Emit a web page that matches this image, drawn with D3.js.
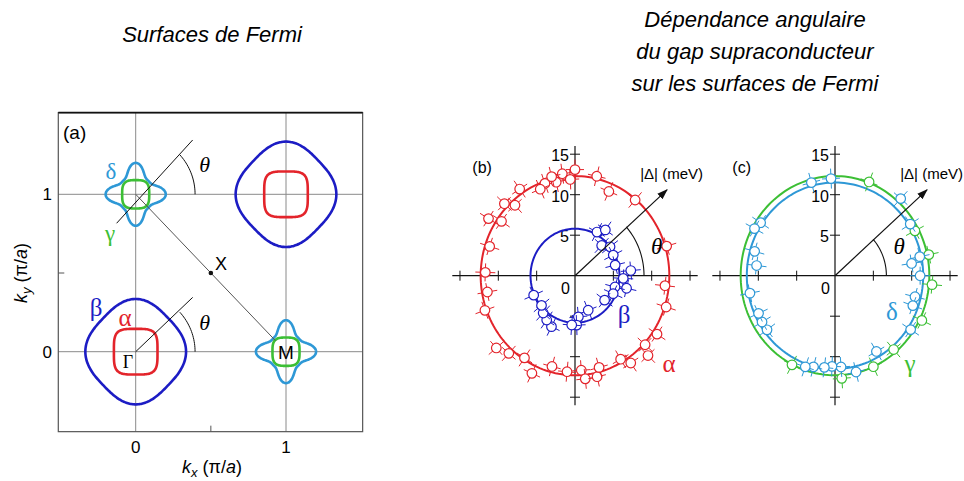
<!DOCTYPE html>
<html><head><meta charset="utf-8">
<script src="https://cdn.jsdelivr.net/npm/d3@7"></script>
<style>body{margin:0;background:#fff}svg{display:block}</style>
</head><body>
<svg id="c" width="964" height="481"></svg>
<script>
// ---------- DATA ----------
const titleLeft = ["Surfaces de Fermi"];
const titleRight = ["Dépendance angulaire", "du gap supraconducteur", "sur les surfaces de Fermi"];
const kTicks = [0, 1];
const kMinor = [0.5];
const gapTicks = [-15, -10, -5, 5, 10, 15];
const gapTickLabels = [15, 10, 5];
// Fermi pockets (centres in pi/a units)
const alphaCenters = [[0, 0], [1, 1]];
const betaCenters = [[0, 0], [1, 1]];
const gammaCenters = [[0, 1], [1, 0]];
const deltaCenters = [[0, 1], [1, 0]];
const pocketSize = [0.145, 0.335, 0.09, 0.2]; // alpha, beta, gamma, delta (half extent along kx)
// Fitted gap magnitudes (meV)
const fitGap = [12.3, 5.8, 12.3, 11.5]; // alpha, beta, gamma, delta
// Measured gaps [theta deg, |Delta| meV]
const alphaPts = [[90,13.1],[97.5,12.7],[102,11.8],[109,12.05],[113,11.6],[124,12.9],[132,11.7],[136,12.8],[145,11.7],[148,13.3],[162,11.7],[178,11.7],
  [190,11.6],[200,12.5],[221,13.6],[228,12.9],[237,12.1],[245,13.3],[255,11.6],[265,11.9],[274,11.7],[276,12.8],[283,12.8],[285.5,11.75],[300,11.9],[304,13],
  [314,13.7],[317,12.5],[326,12.9],[342,12.5],[354,11.8],[17,12.5],[50,12.2],[67,11.3],[77,12.6],[93,11.9],[104,12.6]];
const betaPts = [[62,6.1],[55,6.9],[47,5.1],[38,5.8],[27,5.6],[14,5.4],[5,7.3],[357,6.3],[347,6.9],[345,5.4],[336,5.45],[322,4.9],[292,4.6],[275,5.1],
  [272,6.1],[266,6.1],[244,7.0],[236,6.6],[228,6.2],[220,5.7],[204,5.9]];
const gammaPts = [[69,12.4],[28,11.8],[12,12.5],[355,12.7],[334,12.6],[310,11.9],[294,12.3],[274,12.7],[243,12.35]];
const deltaPts = [[92.5,12.0],[105,11.9],[48,12.8],[33,11.7],[12,11.3],[8.6,10.1],[146,11.7],[151,12.0],[164,10.9],[173,10.3],
  [0,11.1],[346,10.75],[340,10.8],[326,11.9],[300,10.8],[283,12.2],[274,11.3],[268,11.2],[263,11.4],[256,11.6],[251,11.9],[217,11.1],[211,11.1],[205,11.0],[191,11.3]];
const arrowEnd = [12, 10.6];

// ---------- STYLE ----------
const RED = "#e3242b", BLUE = "#1c1cc4", LBLUE = "#2e98d6", GREEN = "#3cbf35";
const sans = "'Liberation Sans', Arial, sans-serif";
const serif = "'Liberation Serif', 'DejaVu Serif', serif";
const svg = d3.select("#c");

// Titles
svg.append("text").attr("x", 212).attr("y", 42).attr("text-anchor", "middle")
  .attr("font-family", sans).attr("font-style", "italic").attr("font-size", 22).text(titleLeft[0]);
titleRight.forEach((t, i) => svg.append("text").attr("x", 755).attr("y", 27 + i * 32).attr("text-anchor", "middle")
  .attr("font-family", sans).attr("font-style", "italic").attr("font-size", 22).text(t));

// ---------- PANEL (a) ----------
const xA = d3.scaleLinear().domain([0, 1]).range([135.7, 286]);
const yA = d3.scaleLinear().domain([0, 1]).range([351.7, 194.3]);
const fx0 = xA(-0.515), fx1 = xA(1.51), fy0 = yA(1.519), fy1 = yA(-0.508);
const gA = svg.append("g");
// grid
kTicks.forEach(k => {
  gA.append("line").attr("x1", xA(k)).attr("x2", xA(k)).attr("y1", fy0).attr("y2", fy1).attr("stroke", "#8a8a8a").attr("stroke-width", 1);
  gA.append("line").attr("y1", yA(k)).attr("y2", yA(k)).attr("x1", fx0).attr("x2", fx1).attr("stroke", "#8a8a8a").attr("stroke-width", 1);
});
kMinor.forEach(k => {
  gA.append("line").attr("x1", xA(k)).attr("x2", xA(k)).attr("y1", fy1).attr("y2", fy1 - 6).attr("stroke", "#555");
  gA.append("line").attr("y1", yA(k)).attr("y2", yA(k)).attr("x1", fx0).attr("x2", fx0 + 6).attr("stroke", "#555");
});
gA.append("rect").attr("x", fx0).attr("y", fy0).attr("width", fx1 - fx0).attr("height", fy1 - fy0)
  .attr("fill", "none").attr("stroke", "#555").attr("stroke-width", 1.2);
gA.append("line").attr("x1", fx0).attr("x2", fx1).attr("y1", fy0).attr("y2", fy0).attr("stroke", "#111").attr("stroke-width", 1.8);
// tick labels
kTicks.forEach(k => {
  gA.append("text").attr("x", xA(k)).attr("y", fy1 + 21).attr("text-anchor", "middle").attr("font-family", sans).attr("font-size", 17).text(k);
  gA.append("text").attr("x", 52).attr("y", yA(k) + 6).attr("text-anchor", "end").attr("font-family", sans).attr("font-size", 17).text(k);
});
// axis labels
const xl = gA.append("text").attr("x", 212).attr("y", 473).attr("text-anchor", "middle").attr("font-family", sans).attr("font-size", 18);
xl.append("tspan").attr("font-style", "italic").text("k");
xl.append("tspan").attr("font-style", "italic").attr("font-size", 13).attr("dy", 4).text("x");
xl.append("tspan").attr("dy", -4).text(" (π/");
xl.append("tspan").attr("font-style", "italic").text("a");
xl.append("tspan").text(")");
const yl = gA.append("text").attr("transform", "translate(27,273) rotate(-90)").attr("text-anchor", "middle").attr("font-family", sans).attr("font-size", 18);
yl.append("tspan").attr("font-style", "italic").text("k");
yl.append("tspan").attr("font-style", "italic").attr("font-size", 13).attr("dy", 4).text("y");
yl.append("tspan").attr("dy", -4).text(" (π/");
yl.append("tspan").attr("font-style", "italic").text("a");
yl.append("tspan").text(")");
gA.append("text").attr("x", 63).attr("y", 139).attr("font-family", sans).attr("font-size", 19).text("(a)");

// pocket shapes
const tS = d3.range(0, 361, 2).map(d => d * Math.PI / 180);
function superellipse(c, a, n, rot) {
  return tS.map(t => {
    const ct = Math.cos(t), st = Math.sin(t);
    const r = a / Math.pow(Math.pow(Math.abs(ct), n) + Math.pow(Math.abs(st), n), 1 / n);
    let u = r * ct, v = r * st;
    if (rot) { const u2 = (u - v) / Math.SQRT2, v2 = (u + v) / Math.SQRT2; u = u2; v = v2; }
    return [c[0] + u, c[1] + v];
  });
}
function star(c, a) {
  return tS.map(t => {
    const r = a * (0.6 + 0.4 * Math.pow((1 + Math.cos(4 * t)) / 2, 1.7));
    return [c[0] + r * Math.cos(t), c[1] + r * Math.sin(t)];
  });
}
const lineA = d3.line().x(d => xA(d[0])).y(d => yA(d[1])).curve(d3.curveCatmullRomClosed);
const betaR = pocketSize[1] / (Math.SQRT2 * Math.pow(2, -1 / 2.8));
betaCenters.forEach(c => gA.append("path").attr("d", lineA(superellipse(c, betaR, 2.8, true))).attr("fill", "none").attr("stroke", BLUE).attr("stroke-width", 2.6));
alphaCenters.forEach(c => gA.append("path").attr("d", lineA(superellipse(c, pocketSize[0], 4, false))).attr("fill", "none").attr("stroke", RED).attr("stroke-width", 2.6));
deltaCenters.forEach(c => gA.append("path").attr("d", lineA(star(c, pocketSize[3]))).attr("fill", "none").attr("stroke", LBLUE).attr("stroke-width", 2.6));
gammaCenters.forEach(c => gA.append("path").attr("d", lineA(superellipse(c, pocketSize[2], 3.3, false))).attr("fill", "none").attr("stroke", GREEN).attr("stroke-width", 2.6));

// lines, theta arcs
gA.append("line").attr("x1", xA(0)).attr("y1", yA(1)).attr("x2", xA(0.93)).attr("y2", yA(0.07)).attr("stroke", "#555").attr("stroke-width", 1);
gA.append("line").attr("x1", xA(-0.127)).attr("y1", yA(0.816)).attr("x2", xA(0.379)).attr("y2", yA(1.345)).attr("stroke", "#111").attr("stroke-width", 1);
gA.append("line").attr("x1", xA(0)).attr("y1", yA(0)).attr("x2", xA(0.379)).attr("y2", yA(0.345)).attr("stroke", "#111").attr("stroke-width", 1);
[[0, 1], [0, 0]].forEach(c => {
  const arc = d3.range(0, 44, 2).map(d => [c[0] + 0.395 * Math.cos(d * Math.PI / 180), c[1] + 0.375 * Math.sin(d * Math.PI / 180)]);
  gA.append("path").attr("d", d3.line().x(d => xA(d[0])).y(d => yA(d[1]))(arc)).attr("fill", "none").attr("stroke", "#111").attr("stroke-width", 1);
  gA.append("text").attr("x", xA(c[0]) + 69).attr("y", yA(c[1]) - 22).attr("text-anchor", "middle").attr("font-family", serif).attr("font-style", "italic").attr("font-size", 22).text("θ");
});
gA.append("circle").attr("cx", xA(0.5)).attr("cy", yA(0.5)).attr("r", 2.3).attr("fill", "#111");
gA.append("text").attr("x", 215).attr("y", 270).attr("font-family", sans).attr("font-size", 18).text("X");
gA.append("text").attr("x", xA(1)).attr("y", yA(0) + 7).attr("text-anchor", "middle").attr("font-family", sans).attr("font-size", 19).text("M");
gA.append("text").attr("x", 128).attr("y", 368).attr("text-anchor", "middle").attr("font-family", serif).attr("font-size", 18).text("Γ");
gA.append("text").attr("x", 111).attr("y", 179).attr("text-anchor", "middle").attr("font-family", serif).attr("font-size", 23).attr("fill", LBLUE).text("δ");
gA.append("text").attr("x", 110).attr("y", 241).attr("text-anchor", "middle").attr("font-family", serif).attr("font-size", 23).attr("fill", GREEN).text("γ");
gA.append("text").attr("x", 96).attr("y", 316).attr("text-anchor", "middle").attr("font-family", serif).attr("font-size", 25).attr("fill", BLUE).text("β");
gA.append("text").attr("x", 125).attr("y", 326).attr("text-anchor", "middle").attr("font-family", serif).attr("font-size", 25).attr("fill", RED).text("α");

// ---------- PANELS (b) and (c) ----------
const defs = svg.append("defs");
defs.append("marker").attr("id", "ah").attr("viewBox", "0 0 10 10").attr("refX", 9).attr("refY", 5)
  .attr("markerWidth", 9).attr("markerHeight", 9).attr("orient", "auto")
  .append("path").attr("d", "M0,1.5 L10,5 L0,8.5 Z").attr("fill", "#111");

function polarPanel(cx, label, series, thetaR, labels) {
  const x = d3.scaleLinear().domain([-16, 16]).range([cx - 122.7, cx + 122.7]);
  const y = d3.scaleLinear().domain([-16, 16]).range([275.7 + 129.6, 275.7 - 129.6]);
  const g = svg.append("g");
  const P = (th, r) => [x(r * Math.cos(th * Math.PI / 180)), y(r * Math.sin(th * Math.PI / 180))];
  // axes
  g.append("line").attr("x1", x(-16)).attr("x2", x(16)).attr("y1", y(0)).attr("y2", y(0)).attr("stroke", "#111").attr("stroke-width", 1.2);
  g.append("line").attr("x1", x(0)).attr("x2", x(0)).attr("y1", y(16)).attr("y2", y(-16)).attr("stroke", "#111").attr("stroke-width", 1.2);
  gapTicks.forEach(t => {
    g.append("line").attr("x1", x(t)).attr("x2", x(t)).attr("y1", y(0) - 5).attr("y2", y(0) + 5).attr("stroke", "#111");
    g.append("line").attr("y1", y(t)).attr("y2", y(t)).attr("x1", x(0) - 5).attr("x2", x(0) + 5).attr("stroke", "#111");
  });
  gapTickLabels.forEach(t => g.append("text").attr("x", x(0) - 6).attr("y", y(t) + 7).attr("text-anchor", "end")
    .attr("font-family", sans).attr("font-size", 16).text(t));
  g.append("text").attr("x", x(0) - 5).attr("y", y(0) + 18).attr("text-anchor", "end").attr("font-family", sans).attr("font-size", 16).text("0");
  g.append("text").attr("x", x(-16) + 20).attr("y", 173).attr("font-family", sans).attr("font-size", 16).text(label);
  g.append("text").attr("x", x(8.5)).attr("y", 179).attr("font-family", sans).attr("font-size", 15).text("|Δ| (meV)");
  // fits
  const ln = d3.line().curve(d3.curveLinearClosed);
  series.forEach(s => {
    g.append("path").attr("d", ln(d3.range(0, 360, 2).map(th => P(th, s.fit)))).attr("fill", "none").attr("stroke", s.color).attr("stroke-width", 2);
  });
  // points
  series.forEach(s => {
    s.pts.forEach(([th, r]) => {
      const [px, py] = P(th, r);
      const a = th * Math.PI / 180, ux = Math.cos(a), uy = -Math.sin(a);
      const pg = g.append("g").attr("stroke", s.color).attr("stroke-width", 1).attr("fill", "none");
      pg.append("line").attr("x1", px - 10 * ux).attr("y1", py - 10 * uy).attr("x2", px + 10 * ux).attr("y2", py + 10 * uy);
      pg.append("line").attr("x1", px - 9 * uy).attr("y1", py + 9 * ux).attr("x2", px + 9 * uy).attr("y2", py - 9 * ux);
      pg.append("circle").attr("cx", px).attr("cy", py).attr("r", 4.8).attr("fill", "#fff").attr("stroke-width", 1.2);
    });
  });
  // arrow + theta
  g.append("line").attr("x1", x(0)).attr("y1", y(0)).attr("x2", x(arrowEnd[0])).attr("y2", y(arrowEnd[1]))
    .attr("stroke", "#111").attr("stroke-width", 1.2).attr("marker-end", "url(#ah)");
  const ang = Math.atan2(arrowEnd[1], arrowEnd[0]) * 180 / Math.PI;
  g.append("path").attr("d", d3.line()(d3.range(0, ang + 1, 2).map(th => P(th, thetaR)))).attr("fill", "none").attr("stroke", "#111").attr("stroke-width", 1.1);
  g.append("text").attr("x", x(0) + thetaR * 7.67 + 7).attr("y", y(0) - 22).attr("font-family", serif).attr("font-style", "italic").attr("font-size", 23).text("θ");
  labels.forEach(l => g.append("text").attr("x", l[0]).attr("y", l[1]).attr("text-anchor", "middle").attr("font-family", serif)
    .attr("font-size", 25).attr("fill", l[3]).text(l[2]));
}
polarPanel(575, "(b)", [
  { fit: fitGap[0], pts: alphaPts, color: RED },
  { fit: fitGap[1], pts: betaPts, color: BLUE }
], 9, [[624, 323, "β", BLUE], [669, 372, "α", RED]]);
polarPanel(835, "(c)", [
  { fit: fitGap[2], pts: gammaPts, color: GREEN },
  { fit: fitGap[3], pts: deltaPts, color: LBLUE }
], 6.7, [[892, 320, "δ", LBLUE], [910, 372, "γ", GREEN]]);
</script>
</body></html>
